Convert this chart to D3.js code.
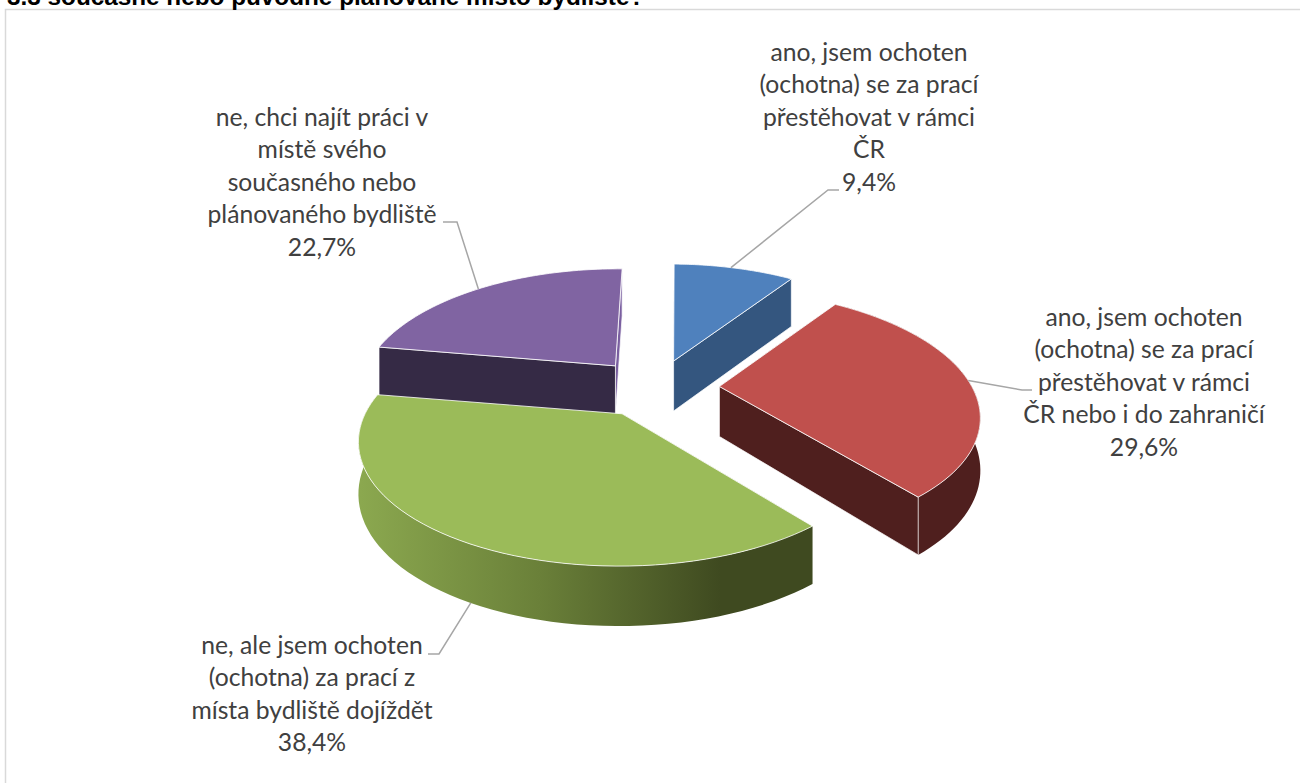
<!DOCTYPE html>
<html>
<head>
<meta charset="utf-8">
<script src="https://cdn.jsdelivr.net/npm/d3@7"></script>
<style>
  html, body { margin: 0; padding: 0; background: #fff; overflow: hidden; }
  svg { display: block; }
  .label { font-family: Lato, sans-serif; font-size: 24.7px; fill: #404040; text-anchor: middle; }
  .title { font-family: "Liberation Sans", sans-serif; font-size: 24.3px; font-weight: bold; fill: #000; }
</style>
</head>
<body>
<svg id="chart" width="1300" height="783"></svg>
<script>
// values
const categories = [
  ["ano, jsem ochoten", "(ochotna) se za prací", "přestěhovat v rámci", "ČR"],
  ["ano, jsem ochoten", "(ochotna) se za prací", "přestěhovat v rámci", "ČR nebo i do zahraničí"],
  ["ne, ale jsem ochoten", "(ochotna) za prací z", "místa bydliště dojíždět"],
  ["ne, chci najít práci v", "místě svého", "současného nebo", "plánovaného bydliště"]
];
const shares = [9.4, 29.6, 38.4, 22.7];
const shareLabels = ["9,4%", "29,6%", "38,4%", "22,7%"];
const titleText = "3.3 současné nebo původně plánované místo bydliště?";

const topColors = ["#4f81bd", "#c0504d", "#9bbb59", "#8064a2"];
const wallColors = ["#34567f", "#4f1f1e", "url(#greenWall)", "#352a45"];
const sliverColors = ["#9fb0c4", "#4f1f1e", "#9bbb59", "#7a5fa0"];

// label blocks: centre x, first baseline
const labelPos = [[869, 60.5], [1144, 325.5], [312, 653.5], [322, 125.5]];
// leader lines: rim angle, elbow and end next to the text
const rimAngle = [0.3, 1.52, 3.63, 5.575];
const leaderPos = [
  [[828, 190], [839, 190]],
  [[1022, 390], [1032, 390]],
  [[439, 654], [428, 654]],
  [[457, 222], [443, 222]]
];
const lineStep = 32.5;

// projection of the tilted disc
const vx = 640, vy = 390;
const radiusX = 253, radiusY = 117.8, persp = 0.2145, depth = 50;
const explode = 0.25, shiftX = 0.06, shiftD = 0.022, turn = 0.02;

const svg = d3.select("#chart");

const pie = d3.pie().value(d => d).sort(null).startAngle(turn).endAngle(2 * Math.PI + turn);
const arcs = pie(shares);

function project(a, r, mid, drop) {
  const ox = shiftX + explode * Math.sin(mid), od = shiftD + explode * Math.cos(mid);
  // where the slice tip lands
  const s0 = 1 / (1 + persp * od);
  const tipX = vx + 258 * ox * s0, tipY = vy - radiusY * od * s0;
  const c = r * Math.cos(a);
  const s = 1 / (1 + persp * c), near = 1 / (1 + 0.08 * od);
  const x = tipX + radiusX * near * r * Math.sin(a) * s + (tipX - vx) * (s - 1) * 0.6;
  const y = tipY - radiusY * (od > 0 ? 1 : near) * c * s;
  return [x, y + (drop ? depth - (c > 0 ? 3 : 10) * c : 0)];
}

function arcPoints(d, mid, drop, reverse) {
  const t = d3.scaleLinear().domain([0, 60]).range(reverse ? [d.endAngle, d.startAngle] : [d.startAngle, d.endAngle]);
  return d3.range(61).map(i => project(t(i), 1, mid, drop));
}

const closed = d3.line().curve(d3.curveLinearClosed);

const defs = svg.append("defs");
const grad = defs.append("linearGradient").attr("id", "greenWall")
  .attr("gradientUnits", "userSpaceOnUse")
  .attr("x1", 360).attr("x2", 720).attr("y1", 0).attr("y2", 0);
grad.append("stop").attr("offset", "0%").attr("stop-color", "#8ba84f");
grad.append("stop").attr("offset", "50%").attr("stop-color", "#6a8039");
grad.append("stop").attr("offset", "100%").attr("stop-color", "#3f4a20");

// frame
svg.append("path")
  .attr("d", "M5.5,790V9.5H1310")
  .attr("fill", "none").attr("stroke", "#d9d9d9").attr("stroke-width", 1.5);

svg.append("text").attr("class", "title").attr("x", 7).attr("y", 5).text(titleText);

// painter's order: back slices first
const order = [3, 0, 1, 2];
order.forEach(i => {
  const d = arcs[i];
  const mid = (d.startAngle + d.endAngle) / 2;
  const g = svg.append("g");
  const apex = project(0, 0, mid, false), apexLow = project(0, 0, mid, true);
  const edge = (a, low) => project(a, 1, mid, low);

  const wall = (a, fill) => g.append("path")
    .attr("d", closed([apex, edge(a, false), edge(a, true), apexLow]))
    .attr("fill", fill)
    .attr("stroke", "#fff").attr("stroke-opacity", 0.7).attr("stroke-width", 1);

  // the wall that looks to the right, then the one that looks to the left
  if (i === 3) { wall(d.endAngle, sliverColors[i]); wall(d.startAngle, wallColors[i]); }
  else if (i === 0) { wall(d.startAngle, sliverColors[i]); wall(d.endAngle, wallColors[i]); }
  else { wall(d.startAngle, wallColors[i]); }

  // only the two front slices show their outer wall
  if (i === 1 || i === 2) {
    g.append("path")
      .attr("d", closed(arcPoints(d, mid, false, false).concat(arcPoints(d, mid, true, true))))
      .attr("fill", wallColors[i]);
  }

  if (i === 1) wall(d.endAngle, wallColors[i]);

  g.append("path")
    .attr("d", closed([apex].concat(arcPoints(d, mid, false, false))))
    .attr("fill", topColors[i])
    .attr("stroke", "#fff").attr("stroke-opacity", 0.8).attr("stroke-width", 1)
    .attr("stroke-linejoin", "round");
});

// leader lines, from the rim of each slice
arcs.forEach((d, i) => {
  const mid = (d.startAngle + d.endAngle) / 2;
  const start = project(rimAngle[i], 1, mid, i === 2);
  svg.append("path")
    .attr("d", d3.line()([start, ...leaderPos[i]]))
    .attr("fill", "none").attr("stroke", "#a6a6a6").attr("stroke-width", 1.5);
});

// labels
arcs.forEach((d, i) => {
  const lines = categories[i].concat(shareLabels[i]);
  const t = svg.append("text").attr("class", "label");
  lines.forEach((s, k) => {
    t.append("tspan").attr("x", labelPos[i][0]).attr("y", labelPos[i][1] + k * lineStep).text(s);
  });
});
</script>
</body>
</html>
